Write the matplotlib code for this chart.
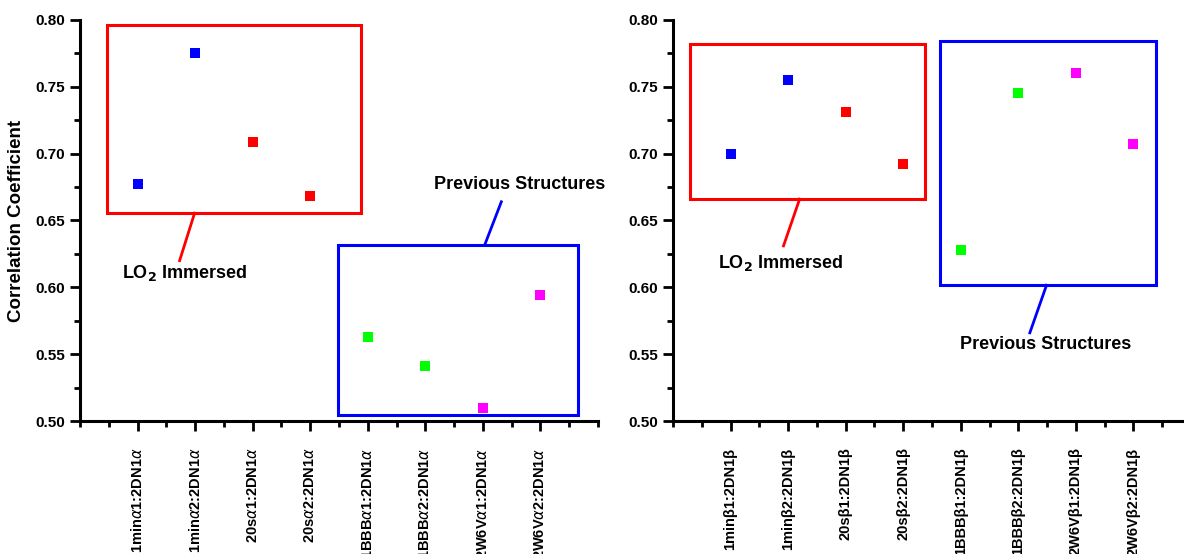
import matplotlib.pyplot as plt
from matplotlib.patches import Rectangle

plt.rcParams['font.family'] = ['Liberation Sans', 'DejaVu Sans']

# data
labels_a = [r'1min$\alpha$1:2DN1$\alpha$', r'1min$\alpha$2:2DN1$\alpha$',
            r'20s$\alpha$1:2DN1$\alpha$', r'20s$\alpha$2:2DN1$\alpha$',
            r'1BBB$\alpha$1:2DN1$\alpha$', r'1BBB$\alpha$2:2DN1$\alpha$',
            r'2W6V$\alpha$1:2DN1$\alpha$', r'2W6V$\alpha$2:2DN1$\alpha$']
labels_b = ['1minβ1:2DN1β', '1minβ2:2DN1β', '20sβ1:2DN1β', '20sβ2:2DN1β',
            '1BBBβ1:2DN1β', '1BBBβ2:2DN1β', '2W6Vβ1:2DN1β', '2W6Vβ2:2DN1β']
values_a = [0.677, 0.775, 0.709, 0.668, 0.563, 0.541, 0.510, 0.594]
values_b = [0.700, 0.755, 0.731, 0.692, 0.628, 0.745, 0.760, 0.707]
colors = ['#0000ff', '#0000ff', '#ff0000', '#ff0000',
          '#00ff00', '#00ff00', '#ff00ff', '#ff00ff']

fig = plt.figure(figsize=(11.84, 5.54), dpi=100)
ax1 = fig.add_axes([0.0676, 0.240, 0.4375, 0.724])
ax2 = fig.add_axes([0.5684, 0.240, 0.4375, 0.724])


def style(ax, labels, values):
    x = range(1, len(values) + 1)
    for xi, v, c in zip(x, values, colors):
        ax.plot(xi, v, 's', color=c, markersize=6.5, markeredgewidth=0)
    ax.set_xlim(0, 9)
    ax.set_ylim(0.50, 0.80)
    for s in ['top', 'right']:
        ax.spines[s].set_visible(False)
    for s in ['left', 'bottom']:
        ax.spines[s].set_linewidth(2.2)
    ax.set_xticks(list(x))
    ax.set_xticks([i * 0.5 for i in range(19)], minor=True)
    ax.set_xticklabels(labels, rotation=90, fontsize=10.5, fontweight='bold', va='top')
    ax.set_yticks([0.50, 0.55, 0.60, 0.65, 0.70, 0.75, 0.80])
    ax.set_yticks([0.50 + 0.025 * i for i in range(13)], minor=True)
    ax.yaxis.set_major_formatter(plt.FormatStrFormatter('%.2f'))
    for t in ax.get_yticklabels():
        t.set_fontweight('bold')
        t.set_fontsize(11)
    ax.tick_params(which='major', length=7, width=2, direction='out')
    ax.tick_params(which='minor', length=4, width=2, direction='out')
    ax.tick_params(axis='x', which='major', pad=12)


def callout(ax, box, color, line, text_xy, text):
    x0, y0, x1, y1 = box
    ax.add_patch(Rectangle((x0, y0), x1 - x0, y1 - y0, fill=False,
                           edgecolor=color, linewidth=2.2, clip_on=False))
    ax.plot(line[0], line[1], color=color, linewidth=2, clip_on=False)
    ax.text(text_xy[0], text_xy[1], text, ha='center', va='center',
            fontsize=13, fontweight='bold', clip_on=False)


style(ax1, labels_a, values_a)
style(ax2, labels_b, values_b)
ax1.set_ylabel('Correlation Coefficient', fontsize=13.5, fontweight='bold', labelpad=8)

lo2 = r'LO$_\mathbf{2}$ Immersed'
callout(ax1, (0.47, 0.6555, 4.88, 0.7963), 'red',
        ([1.99, 1.73], [0.6555, 0.620]), (1.82, 0.611), lo2)
callout(ax1, (4.48, 0.5043, 8.65, 0.6316), 'blue',
        ([7.03, 7.32], [0.6316, 0.664]), (7.63, 0.677), 'Previous Structures')
callout(ax2, (0.30, 0.666, 4.375, 0.782), 'red',
        ([2.20, 1.92], [0.666, 0.631]), (1.87, 0.618), lo2)
callout(ax2, (4.64, 0.6016, 8.40, 0.7843), 'blue',
        ([6.49, 6.20], [0.6016, 0.566]), (6.47, 0.557), 'Previous Structures')

plt.savefig('out.png', dpi=100)
